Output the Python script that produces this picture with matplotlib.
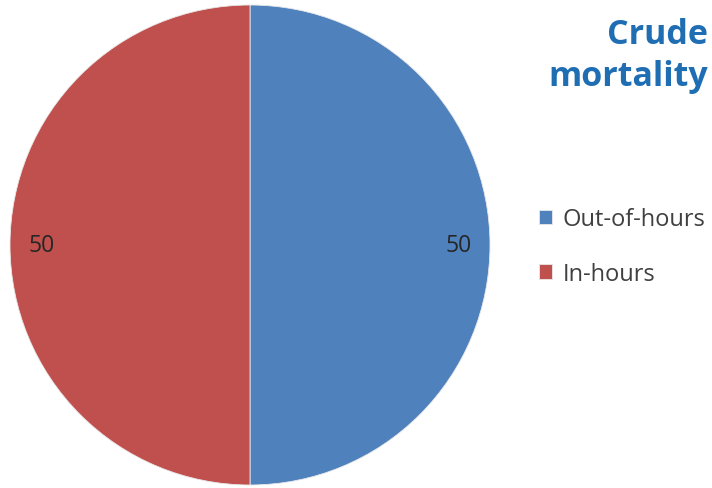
import matplotlib.pyplot as plt

categories = ['Out-of-hours', 'In-hours']
values = [50, 50]
colors = ['#4F81BD', '#C0504D']

plt.rcParams['font.family'] = ['Open Sans', 'DejaVu Sans']

fig = plt.figure(figsize=(7.12, 4.89), dpi=100)
ax = fig.add_axes([10 / 712, 3 / 489, 480 / 712, 480 / 489])

wedges, texts = ax.pie(values, colors=colors, startangle=90, counterclock=False,
                       labels=[str(v) for v in values], labeldistance=0.87,
                       wedgeprops=dict(linewidth=0.6, edgecolor='#e8e8e8'),
                       textprops=dict(fontsize=16.5, color='#262626'))
for t in texts:
    t.set_horizontalalignment('center')
ax.set_aspect('equal')
ax.set_xlim(-1.0, 1.0)
ax.set_ylim(-1.0, 1.0)

fig.text(0.994, 0.885, 'Crude\nmortality', ha='right', va='center',
         fontsize=24.5, fontweight='bold', color='#1F6EB4', linespacing=1.3)

fig.legend(wedges, categories, loc='center left', bbox_to_anchor=(0.727, 0.494),
           frameon=False, fontsize=17, handlelength=0.55, handleheight=0.55,
           handletextpad=0.45, labelspacing=1.3, labelcolor='#404040')

fig.savefig('out.png', dpi=100)
